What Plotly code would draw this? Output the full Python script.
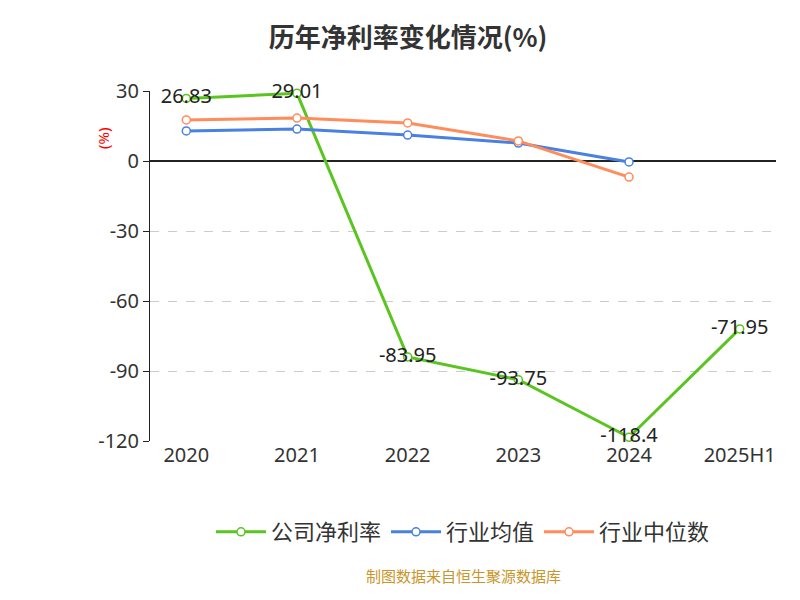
import plotly.graph_objects as go

cats = ["2020", "2021", "2022", "2023", "2024", "2025H1"]
company = [26.83, 29.01, -83.95, -93.75, -118.4, -71.95]
industry_avg = [12.9, 13.7, 11.1, 7.7, -0.4]
industry_med = [17.6, 18.4, 16.3, 8.6, -6.9]
yticks = [30, 0, -30, -60, -90, -120]

fig = go.Figure()
fig.add_trace(go.Scatter(x=cats, y=company, name="公司净利率", mode="lines+markers+text", cliponaxis=False,
    line=dict(color="#5ac520", width=3), marker=dict(size=8, color="white", line=dict(color="#5ac520", width=1.5)),
    text=[str(v) for v in company], textposition="middle center", textfont=dict(size=20, color="#222")))
fig.add_trace(go.Scatter(x=cats[:5], y=industry_avg, name="行业均值", mode="lines+markers", cliponaxis=False,
    line=dict(color="#4a80e0", width=3), marker=dict(size=8, color="white", line=dict(color="#4a80e0", width=1.5))))
fig.add_trace(go.Scatter(x=cats[:5], y=industry_med, name="行业中位数", mode="lines+markers", cliponaxis=False,
    line=dict(color="#ff8c5a", width=3), marker=dict(size=8, color="white", line=dict(color="#ff8c5a", width=1.5))))

fig.update_layout(
    width=800, height=600, plot_bgcolor="white", paper_bgcolor="white",
    font=dict(family="Noto Sans", color="#333"),
    title=dict(text="<b>历年净利率变化情况(%)</b>", x=0.5, y=0.965, xanchor="center",
        font=dict(size=26, color="#333", family="Noto Sans CJK SC")),
    margin=dict(l=142, r=32, t=83, b=167),
    legend=dict(orientation="h", x=0.5, xanchor="center", y=-0.2, yanchor="top",
        font=dict(size=22, family="Noto Sans CJK SC"), itemwidth=50),
    xaxis=dict(type="category", tickfont=dict(size=20), showgrid=False, showline=False, ticks=""),
    yaxis=dict(range=[-120, 30], tickvals=yticks, ticktext=[str(v) for v in yticks], tickfont=dict(size=20),
        showgrid=True, gridcolor="#ccc", griddash="dash", zeroline=True, zerolinecolor="#222", zerolinewidth=1.5,
        showline=True, linecolor="#222", ticks="outside", ticklen=6, tickcolor="#222"),
    showlegend=True,
)
fig.add_annotation(text="(%)", x=-0.095, y=0.9, xref="paper", yref="paper", textangle=-90,
    showarrow=False, font=dict(size=15, color="red"))
fig.add_annotation(text="制图数据来自恒生聚源数据库", x=0.5, y=-0.42, xref="paper", yref="paper",
    showarrow=False, font=dict(size=15, color="#c8962a", family="Noto Sans CJK SC"))
fig.write_html("out.html")
